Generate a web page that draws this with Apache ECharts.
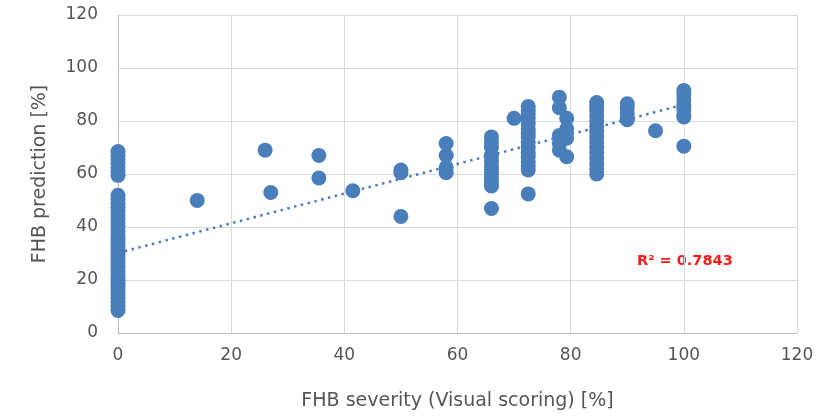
<!DOCTYPE html>
<html>
<head>
<meta charset="utf-8">
<script src="https://cdn.jsdelivr.net/npm/echarts@6/dist/echarts.min.js"></script>
<style>
  html, body { margin: 0; padding: 0; background: #fff; }
  #chart { width: 828px; height: 417px; }
</style>
</head>
<body>
<div id="chart"></div>
<script>
// Visual FHB severity scores (x) and the model's predicted FHB (y), grouped by score.
const severityLevels = [0, 14, 26, 27, 35.5, 41.5, 50, 58, 66, 70, 72.5, 78, 79.3, 84.6, 90, 95, 100];
const predictionsByLevel = [
  [68.5, 67, 65.5, 64, 62.5, 61, 59.5,
   52, 50.5, 49, 47.5, 46, 44.5, 43, 41.5, 40, 38.5, 37, 35.5, 34, 32.5, 31, 29.5, 28,
   26.5, 25, 23.5, 22, 20.5, 19, 17.5, 16, 14.5, 13, 11.5, 10, 8.5],
  [50],
  [69],
  [53],
  [67, 58.5],
  [53.7],
  [61.5, 60.5, 44],
  [71.5, 67, 62.5, 60.5],
  [74, 72, 70, 67, 65, 63, 61.5, 60, 58.5, 57, 55.5, 47],
  [81],
  [85.5, 84, 82.5, 81, 79, 77, 75.5, 74, 72, 70, 68, 66.5, 64.5, 63, 61.5, 52.5],
  [89, 85, 74.5, 71.5, 69],
  [81, 77, 73.5, 66.5],
  [87, 85.5, 84, 82, 80, 78, 76, 74, 72, 70, 68, 66, 64, 62, 60],
  [86.5, 85, 83, 81, 80.5],
  [76.3],
  [91.5, 90, 88, 86, 84.5, 82.5, 81.5, 70.5]
];

// Linear trend fitted to the scores
const trendSlope = 0.56;
const trendIntercept = 30.2;
const trendRange = [0, 100];
const rSquaredText = 'R\u00B2 = 0.7843';

const axisTicks = [0, 20, 40, 60, 80, 100, 120];

const points = [];
severityLevels.forEach((x, i) => {
  predictionsByLevel[i].forEach(y => points.push([x, y]));
});
const trendPoints = trendRange.map(x => [x, trendSlope * x + trendIntercept]);

const blue = '#4a7ebb';
const textGrey = '#555555';
const font = 'DejaVu Sans';

const chart = echarts.init(document.getElementById('chart'), null, { renderer: 'canvas' });
chart.setOption({
  animation: false,
  backgroundColor: '#fff',
  grid: { left: 118, right: 31, top: 15, bottom: 84 },
  xAxis: {
    type: 'value',
    min: axisTicks[0],
    max: axisTicks[axisTicks.length - 1],
    interval: axisTicks[1] - axisTicks[0],
    name: 'FHB severity (Visual scoring) [%]',
    nameLocation: 'middle',
    nameGap: 59,
    nameTextStyle: { color: textGrey, fontFamily: font, fontSize: 19 },
    axisLine: { show: true, lineStyle: { color: '#bfbfbf', width: 1 } },
    axisTick: { show: false },
    axisLabel: { color: textGrey, fontFamily: font, fontSize: 17, margin: 14 },
    splitLine: { show: true, lineStyle: { color: '#d9d9d9', width: 1 } }
  },
  yAxis: {
    type: 'value',
    min: axisTicks[0],
    max: axisTicks[axisTicks.length - 1],
    interval: axisTicks[1] - axisTicks[0],
    name: 'FHB prediction [%]',
    nameLocation: 'middle',
    nameGap: 68,
    nameRotate: 90,
    nameTextStyle: { color: textGrey, fontFamily: font, fontSize: 19 },
    axisLine: { show: true, lineStyle: { color: '#bfbfbf', width: 1 } },
    axisTick: { show: false },
    axisLabel: { color: textGrey, fontFamily: font, fontSize: 17, margin: 20 },
    splitLine: { show: true, lineStyle: { color: '#d9d9d9', width: 1 } }
  },
  series: [
    {
      type: 'scatter',
      data: points,
      symbol: 'circle',
      symbolSize: 15,
      itemStyle: { color: blue, opacity: 1 },
      z: 3
    },
    {
      type: 'line',
      data: trendPoints,
      showSymbol: false,
      symbol: 'none',
      lineStyle: { color: blue, width: 2.5, type: [2.5, 4.5] },
      z: 4
    }
  ],
  graphic: [
    {
      type: 'text',
      left: 637,
      top: 254,
      style: {
        text: rSquaredText,
        fill: '#ff1a1a',
        font: 'bold 14.5px "DejaVu Sans"'
      }
    }
  ]
});
</script>
</body>
</html>
